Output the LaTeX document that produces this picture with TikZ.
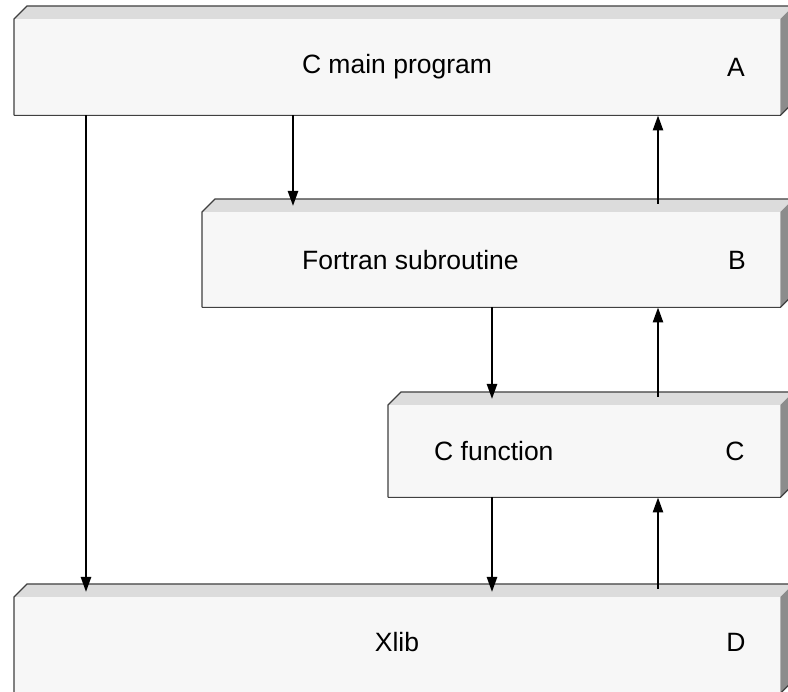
\documentclass[tikz,border=0pt]{standalone}
\usepackage{fontspec}
\setmainfont{Liberation Sans}
\usetikzlibrary{arrows.meta,calc}
\definecolor{frontc}{HTML}{F7F7F7}
\definecolor{topc}{HTML}{DCDCDC}
\definecolor{sidec}{HTML}{8C8C8C}
\definecolor{edgec}{HTML}{404040}
\tikzset{
  front/.style={draw=none,fill=frontc,rectangle,inner sep=0pt,anchor=north west},
  lbl/.style={font=\fontsize{26.5}{30}\selectfont,inner sep=0pt,text=black},
  arr/.style={line width=2.4pt,-{Triangle[length=15pt,width=10pt]}},
}
\newcommand{\threed}[1]{%
  \fill[topc] (#1.north west) -- ++(13,-13) -- ($(#1.north east)+(13,-13)$) -- (#1.north east) -- cycle;
  \fill[sidec] (#1.north east) -- ++(13,-13) -- ($(#1.south east)+(13,-13)$) -- (#1.south east) -- cycle;
  \draw[edgec,line width=1.2pt] (#1.south west) -- (#1.north west) -- ++(13,-13) -- ($(#1.north east)+(13,-13)$) -- ($(#1.south east)+(13,-13)$) -- (#1.south east) -- (#1.south west);
}
\begin{document}
\begin{tikzpicture}[x=1pt,y=-1pt]
\useasboundingbox (0,0) rectangle (788,692);
\fill[white] (0,0) rectangle (788,692);
% boxes (front faces)
\node[front,minimum width=766pt,minimum height=96pt] (A) at (14,19) {};
\node[front,minimum width=578pt,minimum height=95pt] (B) at (202,212) {};
\node[front,minimum width=392pt,minimum height=92pt] (C) at (388,405) {};
\node[front,minimum width=766pt,minimum height=96pt] (D) at (14,597) {};
\threed{A}
\threed{B}
\threed{C}
\threed{D}
% labels
\node[lbl] (At) at (397,67) {C main program};
\node[lbl] (Al) at (736,67) {A};
\node[lbl,anchor=west] (Bt) at (302,260) {Fortran subroutine};
\node[lbl] (Bl) at (737,260) {B};
\node[lbl,anchor=west] (Ct) at (434,451) {C function};
\node[lbl] (Cl) at (735,451) {C};
\node[lbl] (Dt) at (397,642) {Xlib};
\node[lbl] (Dl) at (736,642) {D};
% connectors
\coordinate (x1) at (86,0);
\coordinate (x2) at (293,0);
\coordinate (x3) at (492,0);
\coordinate (x4) at (658,0);
\draw[arr] (A.south -| x1) -- ($(D.north -| x1)+(0,-5)$);
\draw[arr] (A.south -| x2) -- ($(B.north -| x2)+(0,-6)$);
\draw[arr] ($(B.north -| x4)+(0,-8)$) -- (A.south -| x4);
\draw[arr] (B.south -| x3) -- ($(C.north -| x3)+(0,-6)$);
\draw[arr] ($(C.north -| x4)+(0,-8)$) -- (B.south -| x4);
\draw[arr] (C.south -| x3) -- ($(D.north -| x3)+(0,-5)$);
\draw[arr] ($(D.north -| x4)+(0,-8)$) -- (C.south -| x4);
\end{tikzpicture}
\end{document}
